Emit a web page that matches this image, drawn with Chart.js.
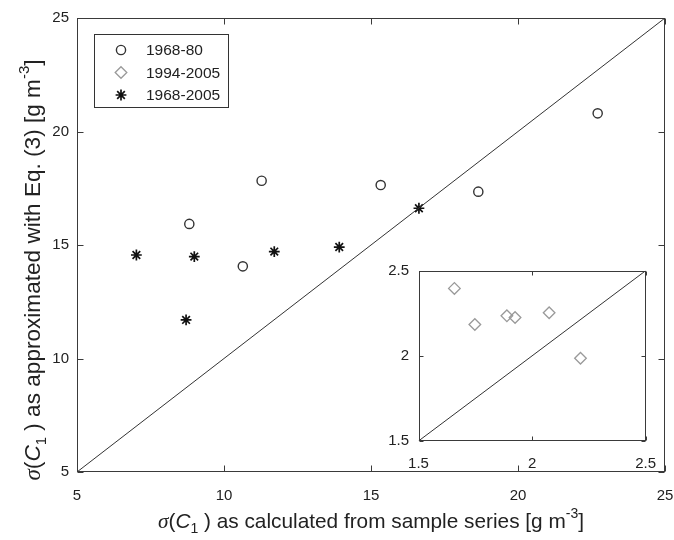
<!DOCTYPE html>
<html>
<head>
<meta charset="utf-8">
<script src="https://cdn.jsdelivr.net/npm/chart.js@4.4.0/dist/chart.umd.min.js"></script>
<style>
    html, body { margin: 0; padding: 0; background: #ffffff; }
    #wrap { position: relative; width: 674px; height: 540px; }
    #wrap canvas { position: absolute; }
    #mainChart { left: 0; top: 0; }
    #insetChart { left: 370px; top: 258px; }
</style>
</head>
<body>
<div id="wrap">
    <canvas id="mainChart" width="674" height="540"></canvas>
    <canvas id="insetChart" width="290" height="235"></canvas>
</div>
<script>
// ================== DATA ==================
const mainTicks = [5, 10, 15, 20, 25];
const insetTicks = [1.5, 2, 2.5];
const mainLine = [5, 25];      // 1:1 line, main panel
const insetLine = [1.5, 2.5];  // 1:1 line, inset

// 1968-80 (circles)
const earlyX = [8.82, 10.64, 11.28, 15.33, 18.65, 22.71];
const earlyY = [15.93, 14.06, 17.83, 17.64, 17.35, 20.80];

// 1968-2005 (stars)
const fullX = [7.02, 8.71, 8.99, 11.71, 13.92, 16.63];
const fullY = [14.56, 11.70, 14.49, 14.71, 14.91, 16.62];

// 1994-2005 (diamonds, inset panel)
const lateX = [1.658, 1.748, 1.889, 1.925, 2.075, 2.213];
const lateY = [2.396, 2.184, 2.235, 2.225, 2.253, 1.986];

const legendLabels = ["1968-80", "1994-2005", "1968-2005"];

// ================== STYLES ==================
const SANS = '"Liberation Sans", Arial, sans-serif';
const SERIF = '"Liberation Serif", "Times New Roman", serif';
const TXT = "#222222";

const circleStyle = { pointStyle: "circle", radius: 4.6, borderWidth: 1.4, borderColor: "#333333" };
const diamondStyle = { pointStyle: "rectRot", radius: 5.8, borderWidth: 1.3, borderColor: "#9a9a9a" };
const starStyle = { pointStyle: "star", radius: 5.4, borderWidth: 1.7, borderColor: "#111111" };
const legendStyles = [circleStyle, diamondStyle, starStyle];

function pts(xs, ys) {
    return xs.map((x, i) => ({ x: x, y: ys[i] }));
}

function scatterSet(label, data, st) {
    return {
        type: "scatter",
        label: label,
        data: data,
        pointStyle: st.pointStyle,
        pointRadius: st.radius,
        pointHoverRadius: st.radius,
        pointBorderWidth: st.borderWidth,
        pointBorderColor: st.borderColor,
        pointBackgroundColor: "rgba(0,0,0,0)"
    };
}

function lineSet(vals) {
    return {
        type: "line",
        data: vals.map(v => ({ x: v, y: v })),
        borderColor: "#333333",
        borderWidth: 1,
        pointRadius: 0,
        fill: false
    };
}

// text with italic / sub / superscript parts, centred on (x, y)
function richText(ctx, parts, x, y, rotate) {
    ctx.save();
    ctx.translate(x, y);
    if (rotate) ctx.rotate(-Math.PI / 2);
    ctx.textBaseline = "middle";
    ctx.textAlign = "left";
    ctx.fillStyle = TXT;
    let total = 0;
    parts.forEach(p => { ctx.font = p.font; p.w = ctx.measureText(p.t).width; total += p.w; });
    let cx = -total / 2;
    parts.forEach(p => { ctx.font = p.font; ctx.fillText(p.t, cx, p.dy || 0); cx += p.w; });
    ctx.restore();
}

function titleParts(middle, size) {
    const n = size + "px " + SANS;
    const s = Math.round(size * 0.68) + "px " + SANS;
    return [
        { t: "\u03c3", font: "italic " + (size + 0.5) + "px " + SERIF },
        { t: "(", font: n },
        { t: "C", font: "italic " + n },
        { t: "1", font: s, dy: size * 0.34 },
        { t: " ) " + middle + " [g m", font: n },
        { t: "-3", font: s, dy: -size * 0.39 },
        { t: "]", font: n }
    ];
}

// box round the plot area with inward ticks on all four sides
const framePlugin = {
    id: "frame",
    afterDatasetsDraw(chart, args, opts) {
        const ctx = chart.ctx;
        const a = chart.chartArea;
        const sx = chart.scales.x, sy = chart.scales.y;
        const len = opts.tickLen || 5;
        const L = Math.round(a.left) + 0.5, R = Math.round(a.right) - 0.5;
        const T = Math.round(a.top) + 0.5, B = Math.round(a.bottom) - 0.5;
        ctx.save();
        ctx.strokeStyle = "#3a3a3a";
        ctx.lineWidth = 1;
        ctx.strokeRect(L, T, R - L, B - T);
        ctx.beginPath();
        sx.ticks.forEach(t => {
            const px = Math.round(sx.getPixelForValue(t.value)) + 0.5;
            ctx.moveTo(px, B); ctx.lineTo(px, B - len);
            ctx.moveTo(px, T); ctx.lineTo(px, T + len);
        });
        sy.ticks.forEach(t => {
            const py = Math.round(sy.getPixelForValue(t.value)) + 0.5;
            ctx.moveTo(L, py); ctx.lineTo(L + len, py);
            ctx.moveTo(R, py); ctx.lineTo(R - len, py);
        });
        ctx.stroke();
        ctx.restore();
    }
};

// axis titles + boxed legend for the main panel
const mainDecor = {
    id: "mainDecor",
    afterDraw(chart) {
        const ctx = chart.ctx;
        const a = chart.chartArea;
        richText(ctx, titleParts("as calculated from sample series", 20.8), (a.left + a.right) / 2, 522, false);
        richText(ctx, titleParts("as approximated with Eq. (3)", 22.6), 34, 270, true);

        // legend
        ctx.save();
        ctx.fillStyle = "#ffffff";
        ctx.fillRect(94.5, 34.5, 134, 73);
        ctx.strokeStyle = "#333333";
        ctx.lineWidth = 1;
        ctx.strokeRect(94.5, 34.5, 134, 73);
        ctx.font = "15.5px " + SANS;
        ctx.textBaseline = "middle";
        ctx.textAlign = "left";
        legendLabels.forEach((lab, i) => {
            const y = 50 + i * 22.5;
            const st = legendStyles[i];
            ctx.strokeStyle = st.borderColor;
            ctx.fillStyle = "rgba(0,0,0,0)";
            ctx.lineWidth = st.borderWidth;
            Chart.helpers.drawPoint(ctx, { pointStyle: st.pointStyle, radius: st.radius, rotation: 0, borderWidth: st.borderWidth }, 121, y);
            ctx.fillStyle = TXT;
            ctx.fillText(lab, 146, y + 1);
        });
        ctx.restore();
    }
};

function axis(min, max, ticks, size, pad, fontSize, isX) {
    const o = {
        type: "linear",
        min: min,
        max: max,
        grid: { display: false, drawTicks: false, tickLength: 0 },
        border: { display: false },
        ticks: {
            font: { family: SANS, size: fontSize },
            color: TXT,
            padding: pad,
            callback: v => String(v)
        },
        afterBuildTicks: s => { s.ticks = ticks.map(v => ({ value: v })); }
    };
    if (isX) {
        o.afterFit = s => { s.height = size; s.paddingLeft = 0; s.paddingRight = 0; };
    } else {
        o.afterFit = s => { s.width = size; s.paddingTop = 0; s.paddingBottom = 0; };
    }
    return o;
}

// ================== MAIN PANEL ==================
new Chart(document.getElementById("mainChart").getContext("2d"), {
    type: "scatter",
    data: {
        datasets: [
            lineSet(mainLine),
            scatterSet("1968-80", pts(earlyX, earlyY), circleStyle),
            scatterSet("1968-2005", pts(fullX, fullY), starStyle)
        ]
    },
    options: {
        responsive: false,
        animation: false,
        devicePixelRatio: 1,
        layout: { padding: { left: 0, top: 18, right: 9, bottom: 0 } },
        plugins: { legend: { display: false }, tooltip: { enabled: false }, frame: { tickLen: 6 } },
        scales: {
            x: axis(5, 25, mainTicks, 68, 15, 15, true),
            y: axis(5, 25, mainTicks, 77, 8, 15, false)
        }
    },
    plugins: [framePlugin, mainDecor]
});

// ================== INSET PANEL ==================
new Chart(document.getElementById("insetChart").getContext("2d"), {
    type: "scatter",
    data: {
        datasets: [
            lineSet(insetLine),
            scatterSet("1994-2005", pts(lateX, lateY), diamondStyle)
        ]
    },
    options: {
        responsive: false,
        animation: false,
        devicePixelRatio: 1,
        layout: { padding: { left: 0, top: 12.7, right: 14.3, bottom: 0 } },
        plugins: { legend: { display: false }, tooltip: { enabled: false }, frame: { tickLen: 4 } },
        scales: {
            x: axis(1.5, 2.5, insetTicks, 52, 14, 15, true),
            y: axis(1.5, 2.5, insetTicks, 48.5, 9.5, 15, false)
        }
    },
    plugins: [framePlugin]
});
</script>
</body>
</html>
